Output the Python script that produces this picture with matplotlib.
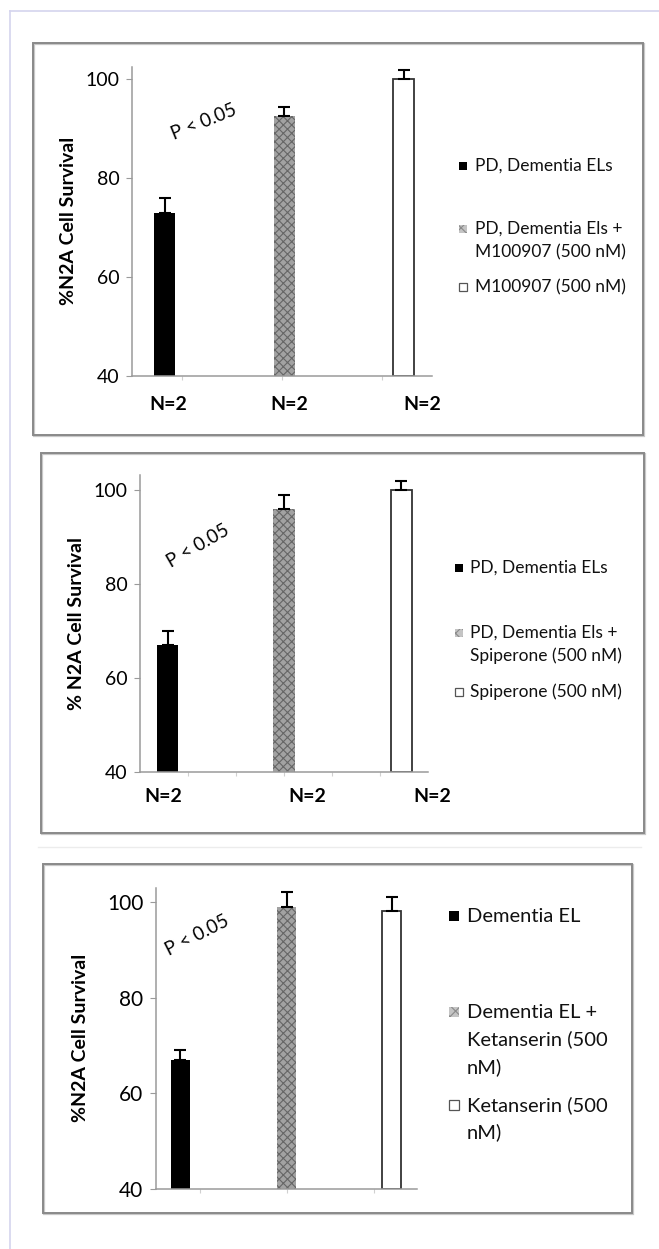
import matplotlib.pyplot as plt
from matplotlib.patches import Rectangle
from matplotlib.lines import Line2D

plt.rcParams['font.family'] = ['Lato', 'DejaVu Sans']
plt.rcParams['hatch.linewidth'] = 0.8

W, H = 659, 1249

# ---- data ----
yticks = [40, 60, 80, 100]
n_labels = ['N=2', 'N=2', 'N=2']
p_text = 'P < 0.05'

p1_values = [73, 92.5, 100]
p1_errors = [3, 1.8, 1.8]
p1_legend = ['PD, Dementia ELs', 'PD, Dementia Els +\nM100907 (500 nM)', 'M100907 (500 nM)']
p1_ylabel = '%N2A Cell Survival'

p2_values = [67, 96, 100]
p2_errors = [3, 3, 2]
p2_legend = ['PD, Dementia ELs', 'PD, Dementia Els +\nSpiperone (500 nM)', 'Spiperone (500 nM)']
p2_ylabel = '% N2A Cell Survival'

p3_values = [67, 99, 98]
p3_errors = [2, 3, 3]
p3_legend = ['Dementia EL', 'Dementia EL +\nKetanserin (500\nnM)', 'Ketanserin (500\nnM)']
p3_ylabel = '%N2A Cell Survival'

# bar looks: black, grey textured, white outlined
bar_styles = [
    dict(facecolor='black', edgecolor='black', linewidth=0),
    dict(facecolor='#a2a2a2', edgecolor='#666666', hatch='xxxx', linewidth=0),
    dict(facecolor='white', edgecolor='#333333', linewidth=1.3),
]
legend_styles = [
    dict(facecolor='black', edgecolor='black', linewidth=0),
    dict(facecolor='#c4c4c4', edgecolor='#8a8a8a', hatch='xxx', linewidth=0),
    dict(facecolor='white', edgecolor='#555555', linewidth=0.9),
]


def fx(x):
    return x / W


def fy(y):
    return 1 - y / H


fig = plt.figure(figsize=(W / 100, H / 100), dpi=100)

# light outer page border
fig.add_artist(Line2D([fx(10), 1], [fy(11), fy(11)], color='#d4d4ee', lw=1.2))
fig.add_artist(Line2D([fx(10), fx(10)], [fy(11), 0], color='#d4d4ee', lw=1.2))
# faint separator between panel 2 and 3
fig.add_artist(Line2D([fx(38), fx(641)], [fy(847), fy(847)], color='#ececec', lw=1))


def frame(x0, y0, x1, y1):
    fig.add_artist(Rectangle((fx(x0 + 1), fy(y1 + 1)), fx(x1 - x0), (y1 - y0) / H,
                             transform=fig.transFigure, fill=False,
                             edgecolor='#c8c8c8', lw=1.6))
    fig.add_artist(Rectangle((fx(x0), fy(y1)), fx(x1 - x0), (y1 - y0) / H,
                             transform=fig.transFigure, fill=False,
                             edgecolor='#8a8a8a', lw=1.4))


def panel(box, ymax, positions, width, values, errors, ylabel, ylabel_xy,
          ptext_xy, prot, legend_labels, leg, tick_fs, xminor, nlab=None):
    x0, y0, x1, y1 = box
    ax = fig.add_axes([fx(x0), fy(y1), fx(x1 - x0), (y1 - y0) / H])
    for pos, v, e, st in zip(positions, values, errors, bar_styles):
        ax.bar(pos, v - 40, width, bottom=40, **st, zorder=2)
        ax.errorbar(pos, v, yerr=[[0], [e]], fmt='none', ecolor='black',
                    elinewidth=1.5, capsize=4, capthick=1.5, zorder=3)
    ax.set_xlim(0, 3)
    ax.set_ylim(40, ymax)
    ax.set_yticks(yticks)
    ax.set_xticks(xminor)
    ax.set_xticklabels([])
    for s in ['top', 'right']:
        ax.spines[s].set_visible(False)
    for s in ['left', 'bottom']:
        ax.spines[s].set_color('#9a9a9a')
        ax.spines[s].set_linewidth(1.1)
    ax.tick_params(axis='y', direction='out', length=4, color='#9a9a9a',
                   labelsize=tick_fs, pad=5, labelcolor='#000000')
    ax.tick_params(axis='x', direction='out', length=3, color='#d0d0d0')

    fig.text(fx(ylabel_xy[0]), fy(ylabel_xy[1]), ylabel, rotation=90,
             ha='center', va='center', fontsize=14, fontweight='bold')
    fig.text(fx(ptext_xy[0]), fy(ptext_xy[1]), p_text, rotation=prot,
             ha='center', va='center', fontsize=13.5, color='#000000',
             rotation_mode='anchor')

    if nlab is not None:
        ny, nxs = nlab
        for nx, t in zip(nxs, n_labels):
            fig.text(fx(nx), fy(ny), t, ha='center', va='center',
                     fontsize=14, fontweight='bold')

    mx, tx, ys, pitch, fs, ms = leg
    for lab, yy, st in zip(legend_labels, ys, legend_styles):
        fig.add_artist(Rectangle((fx(mx), fy(yy + ms / 2)), fx(ms), ms / H,
                                 transform=fig.transFigure, **st))
        for k, line in enumerate(lab.split('\n')):
            fig.text(fx(tx), fy(yy + k * pitch), line, ha='left', va='center',
                     fontsize=fs, color='#111111')
    return ax


# panel 1
frame(33, 43, 643, 435)
panel((132, 67, 432, 376), 102.4, [0.325, 1.525, 2.72], 0.21,
      p1_values, p1_errors, p1_ylabel, (69, 221), (204, 122), 22,
      p1_legend, (459, 475, [166, 229, 287], 23, 12.5, 8), 14,
      [0.5, 1.5, 2.5], nlab=(405, [168, 289, 422]))

# panel 2
frame(41, 453, 644, 833)
panel((140, 475, 428, 772), 103.2, [0.29, 1.5, 2.72], 0.22,
      p2_values, p2_errors, p2_ylabel, (77, 623), (198, 546), 30,
      p2_legend, (455, 470, [568, 633, 692], 23, 12.5, 8), 14,
      [0.5, 1.0, 1.5, 2.0, 2.5], nlab=(797, [163, 307, 432]))

# panel 3
frame(43, 864, 632, 1213)
panel((156, 888, 417, 1189), 102.9, [0.28, 1.5, 2.71], 0.22,
      p3_values, p3_errors, p3_ylabel, (80, 1038), (197, 935), 27,
      p3_legend, (449, 467, [916, 1012, 1105], 27.5, 14.5, 10), 15,
      [0.5, 1.5, 2.5])

fig.savefig('out.png', dpi=100)
